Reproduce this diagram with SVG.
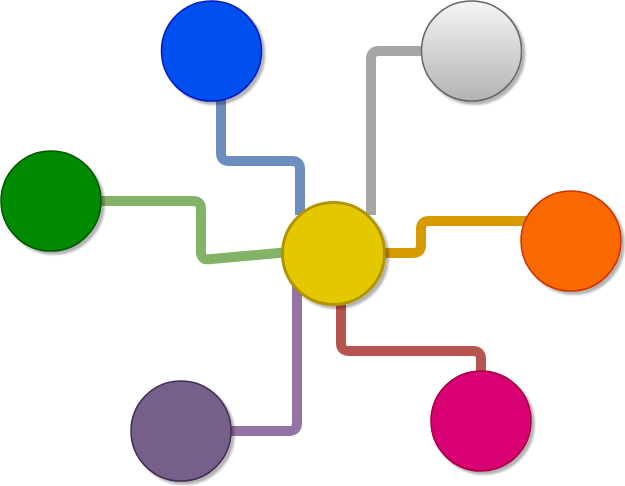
<svg xmlns="http://www.w3.org/2000/svg" width="625" height="486" viewBox="0 0 625 486">
<style>
.c{fill:none;stroke-width:10;stroke-linejoin:round;stroke-linecap:butt}
.n{stroke-width:1.5;filter:url(#sh)}
</style>
<defs>
<filter id="sh" x="-20%" y="-20%" width="140%" height="140%">
<feGaussianBlur in="SourceAlpha" stdDeviation="1.2"/>
<feOffset dx="3" dy="3" result="o"/>
<feComponentTransfer><feFuncA type="linear" slope="0.3"/></feComponentTransfer>
<feMerge><feMergeNode/><feMergeNode in="SourceGraphic"/></feMerge>
</filter>
<linearGradient id="gg" x1="0" y1="0" x2="0" y2="1">
<stop offset="0" stop-color="#f5f5f5"/>
<stop offset="1" stop-color="#b3b3b3"/>
</linearGradient>
</defs>
<g id="connectors">
<path class="c" stroke="#6C8EBF" d="M221,100 V153 Q221,161 229,161 H292 Q300,161 300,169 V215"/>
<path class="c" stroke="#A6A6A6" d="M424,51 H379 Q371,51 371,59 V215"/>
<path class="c" stroke="#82B366" d="M101,201 H193 Q201,201 201,209 V252 Q201,260 209,259.3 L284,252.5"/>
<path class="c" stroke="#D79B00" d="M530,221 H429 Q421,221 421,229 V245 Q421,253 413,253 H383"/>
<path class="c" stroke="#9673A6" d="M231,431 H289 Q297,431 297,423 V285"/>
<path class="c" stroke="#B85450" d="M481,375 V359 Q481,351 473,351 H349 Q341,351 341,343 V300"/>
</g>
<g id="node-blue"><circle class="n" cx="211.5" cy="51" r="50" fill="#0050EF" stroke="#001DBC"/></g>
<g id="node-gray"><circle class="n" cx="471.5" cy="51" r="50" fill="url(#gg)" stroke="#666666"/></g>
<g id="node-green"><circle class="n" cx="51" cy="201" r="50" fill="#008A00" stroke="#005700"/></g>
<g id="node-orange"><circle class="n" cx="571" cy="241" r="50" fill="#FA6800" stroke="#C73500"/></g>
<g id="node-purple"><circle class="n" cx="181" cy="431" r="50" fill="#76608A" stroke="#432D57"/></g>
<g id="node-magenta"><circle class="n" cx="481" cy="421" r="50" fill="#D80073" stroke="#A50040"/></g>
<g id="node-center"><circle cx="333.5" cy="253.5" r="51" fill="#E3C800" stroke="#B09500" stroke-width="3" filter="url(#sh)"/></g>
</svg>
